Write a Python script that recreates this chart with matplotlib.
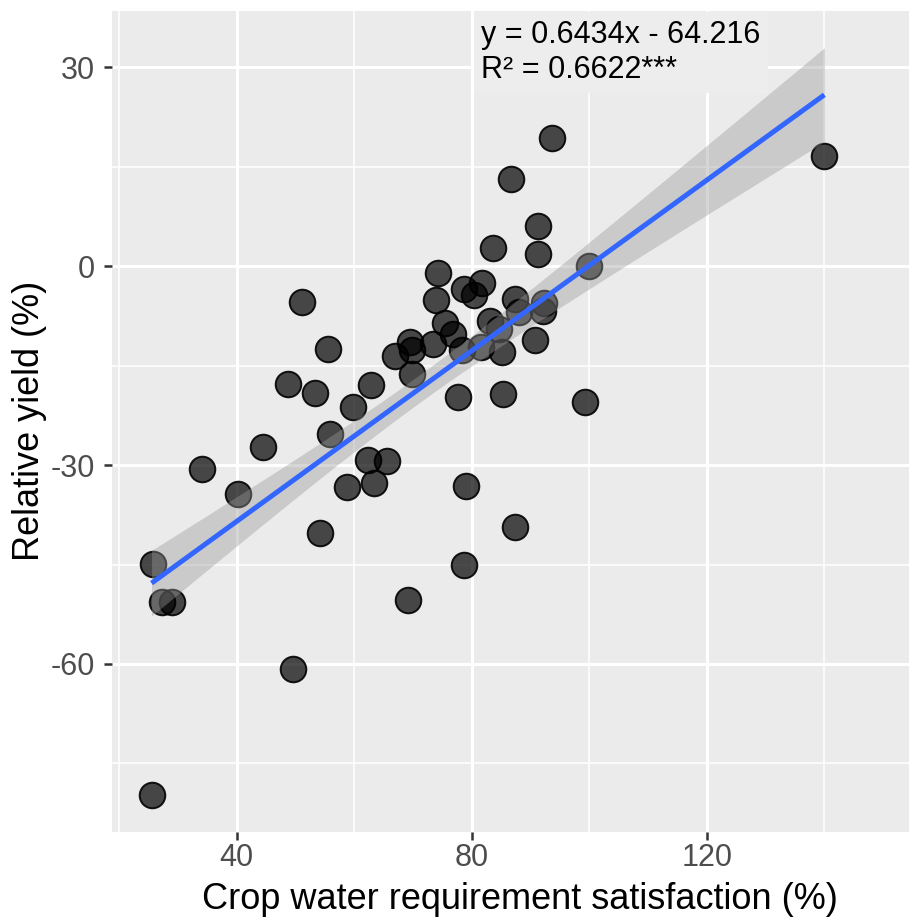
import numpy as np
import matplotlib
matplotlib.use("Agg")
import matplotlib.pyplot as plt
from matplotlib.ticker import FixedLocator

# ---- data ----
cwr_satisfaction = [25.5, 25.8, 27.2, 28.9, 34.1, 40.2, 44.4, 48.7, 49.6, 51.1,
                    53.3, 54.1, 55.6, 55.9, 58.8, 59.7, 62.3, 62.9, 63.4, 65.5,
                    67.0, 69.2, 69.5, 69.8, 69.8, 73.4, 73.9, 74.2, 75.5, 76.8,
                    77.6, 78.6, 78.7, 79.0, 78.4, 80.4, 81.7, 81.5, 83.1, 83.6,
                    84.6, 85.1, 85.3, 86.6, 87.3, 87.3, 88.1, 90.8, 91.2, 91.3,
                    92.3, 92.1, 93.6, 99.3, 100.0, 140.0]
relative_yield = [-79.8, -44.9, -50.6, -50.6, -30.6, -34.4, -27.2, -17.7, -60.7, -5.4,
                  -19.1, -40.3, -12.5, -25.3, -33.3, -21.2, -29.2, -17.9, -32.7, -29.4,
                  -13.5, -50.4, -11.5, -12.7, -16.2, -11.7, -5.1, -1.0, -8.6, -10.2,
                  -19.7, -3.4, -45.0, -33.1, -12.6, -4.3, -2.6, -12.2, -8.2, 2.8,
                  -9.5, -12.9, -19.2, 13.2, -39.4, -5.0, -6.9, -11.1, 1.9, 6.1,
                  -5.5, -6.7, 19.4, -20.5, 0.0, 16.7]
slope = 0.6434
intercept = -64.216
r_squared = 0.6622
x_ticks = [40, 80, 120]
y_ticks = [-60, -30, 0, 30]
x_label = "Crop water requirement satisfaction (%)"
y_label = "Relative yield (%)"

x = np.array(cwr_satisfaction)
y = np.array(relative_yield)

plt.rcParams['font.family'] = ['Liberation Sans', 'DejaVu Sans']
plt.rcParams['axes.unicode_minus'] = False

W, H = 909, 917
fig = plt.figure(figsize=(W / 100, H / 100), dpi=100)
fig.patch.set_facecolor('white')
ax = fig.add_axes([111.7 / W, (H - 831.7) / H, (W - 111.7) / W, (831.7 - 11) / H])
ax.set_facecolor('#EBEBEB')
for s in ax.spines.values():
    s.set_visible(False)

ax.set_xlim(18.72, 154.4)
ax.set_ylim(-85.3, 38.5)

ax.xaxis.set_major_locator(FixedLocator(x_ticks))
ax.yaxis.set_major_locator(FixedLocator(y_ticks))
ax.xaxis.set_minor_locator(FixedLocator([20, 60, 100, 140]))
ax.yaxis.set_minor_locator(FixedLocator([-75, -45, -15, 15]))
ax.grid(which='major', color='white', linewidth=2.2, zorder=0)
ax.grid(which='minor', color='white', linewidth=1.1, zorder=0)
ax.set_axisbelow(True)
ax.tick_params(which='minor', length=0)
ax.tick_params(which='major', direction='out', length=5.8, width=1.8,
               color='#333333', labelcolor='#4D4D4D', labelsize=22)
ax.tick_params(axis='x', pad=2.5)
ax.tick_params(axis='y', pad=6.0)

# points
ax.scatter(x, y, s=340, facecolor=(0, 0, 0, 0.7), edgecolor=(0, 0, 0, 0.9),
           linewidth=1.4, zorder=3)

# regression line and confidence band
xs = np.linspace(x.min(), x.max(), 200)
yhat = intercept + slope * xs
resid = y - (intercept + slope * x)
n = len(x)
s_err = np.sqrt(np.sum(resid ** 2) / (n - 2))
sxx = np.sum((x - x.mean()) ** 2)
band_mult = 1.15
half = band_mult * s_err * np.sqrt(1 / n + (xs - x.mean()) ** 2 / sxx)
ax.fill_between(xs, yhat - half, yhat + half, color='#999999', alpha=0.4,
                linewidth=0, zorder=4)
ax.plot(xs, yhat, color='#3366FF', linewidth=3.6, zorder=5, solid_capstyle='butt')

# annotation
ax.text(81.6, 37.2, f"y = {slope:.4f}x - {abs(intercept):.3f}\nR\u00b2 = {r_squared:.4f}***",
        ha='left', va='top', fontsize=22, color='black', linespacing=1.25,
        bbox=dict(boxstyle='square,pad=0.25', facecolor='#EDEDED', edgecolor='none'),
        zorder=6)

# axis titles
fig.text(520 / W, (H - 909) / H, x_label, ha='center', va='baseline', fontsize=26)
fig.text(39.3 / W, (H - 421) / H, y_label, ha='center', va='baseline', fontsize=26,
         rotation=90, rotation_mode='anchor')

fig.savefig('out.png', dpi=100)
